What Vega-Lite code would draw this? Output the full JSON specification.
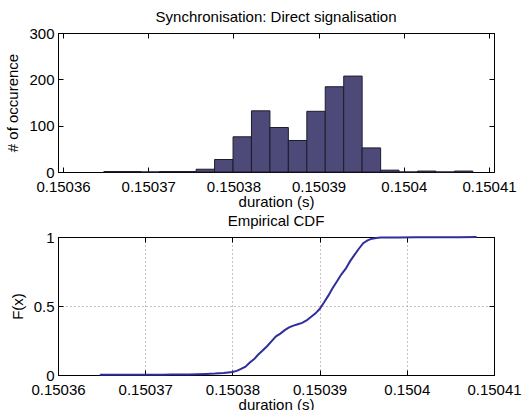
{
  "$schema": "https://vega.github.io/schema/vega-lite/v6.json",
  "padding": {"left": 5, "top": 9, "right": 5, "bottom": 0},
  "background": "white",
  "bounds": "flush",
  "spacing": 65,
  "datasets": {
    "hist": [
      {"x0": 0.1503648, "x1": 0.15036697, "count": 1},
      {"x0": 0.15036697, "x1": 0.15036913, "count": 1},
      {"x0": 0.15036913, "x1": 0.1503713, "count": 0},
      {"x0": 0.1503713, "x1": 0.15037346, "count": 1},
      {"x0": 0.15037346, "x1": 0.15037563, "count": 1},
      {"x0": 0.15037563, "x1": 0.15037779, "count": 6},
      {"x0": 0.15037779, "x1": 0.15037996, "count": 27},
      {"x0": 0.15037996, "x1": 0.15038212, "count": 76},
      {"x0": 0.15038212, "x1": 0.15038429, "count": 132},
      {"x0": 0.15038429, "x1": 0.15038645, "count": 96},
      {"x0": 0.15038645, "x1": 0.15038862, "count": 68},
      {"x0": 0.15038862, "x1": 0.15039078, "count": 131},
      {"x0": 0.15039078, "x1": 0.15039295, "count": 184},
      {"x0": 0.15039295, "x1": 0.15039511, "count": 207},
      {"x0": 0.15039511, "x1": 0.15039728, "count": 52},
      {"x0": 0.15039728, "x1": 0.15039944, "count": 4},
      {"x0": 0.15039944, "x1": 0.15040161, "count": 0},
      {"x0": 0.15040161, "x1": 0.15040377, "count": 2},
      {"x0": 0.15040377, "x1": 0.15040594, "count": 0},
      {"x0": 0.15040594, "x1": 0.1504081, "count": 2}
    ],
    "cdf": [
      {"x": 0.1503648, "F": 0.000},
      {"x": 0.1503649, "F": 0.001},
      {"x": 0.15037, "F": 0.002},
      {"x": 0.150372, "F": 0.002},
      {"x": 0.150373, "F": 0.003},
      {"x": 0.150375, "F": 0.004},
      {"x": 0.150376, "F": 0.006},
      {"x": 0.150377, "F": 0.008},
      {"x": 0.150378, "F": 0.010},
      {"x": 0.150379, "F": 0.014},
      {"x": 0.15038, "F": 0.022},
      {"x": 0.1503805, "F": 0.030},
      {"x": 0.150381, "F": 0.045},
      {"x": 0.1503815, "F": 0.060},
      {"x": 0.150382, "F": 0.090},
      {"x": 0.1503825, "F": 0.115},
      {"x": 0.150383, "F": 0.150},
      {"x": 0.1503835, "F": 0.180},
      {"x": 0.150384, "F": 0.210},
      {"x": 0.1503845, "F": 0.245},
      {"x": 0.150385, "F": 0.280},
      {"x": 0.1503855, "F": 0.300},
      {"x": 0.150386, "F": 0.325},
      {"x": 0.1503865, "F": 0.345},
      {"x": 0.150387, "F": 0.358},
      {"x": 0.1503875, "F": 0.368},
      {"x": 0.150388, "F": 0.378},
      {"x": 0.1503885, "F": 0.395},
      {"x": 0.150389, "F": 0.420},
      {"x": 0.1503895, "F": 0.445},
      {"x": 0.15039, "F": 0.478},
      {"x": 0.1503905, "F": 0.525},
      {"x": 0.150391, "F": 0.575},
      {"x": 0.1503915, "F": 0.630},
      {"x": 0.150392, "F": 0.680},
      {"x": 0.1503925, "F": 0.730},
      {"x": 0.150393, "F": 0.770},
      {"x": 0.1503935, "F": 0.825},
      {"x": 0.150394, "F": 0.870},
      {"x": 0.1503945, "F": 0.915},
      {"x": 0.150395, "F": 0.955},
      {"x": 0.1503955, "F": 0.975},
      {"x": 0.150396, "F": 0.988},
      {"x": 0.1503965, "F": 0.993},
      {"x": 0.150397, "F": 0.996},
      {"x": 0.150399, "F": 0.997},
      {"x": 0.150401, "F": 0.998},
      {"x": 0.150404, "F": 0.999},
      {"x": 0.150406, "F": 0.999},
      {"x": 0.150408, "F": 1.000}
    ]
  },
  "vconcat": [
    {
      "width": 436,
      "height": 139,
      "title": {"text": "Synchronisation: Direct signalisation", "offset": 1},
      "data": {"name": "hist"},
      "layer": [
        {
          "mark": {"type": "bar", "fill": "#4d4a7a", "stroke": "#1c1c2c", "strokeWidth": 1, "orient": "vertical"},
          "encoding": {
            "x": {"field": "x0", "type": "quantitative",
                  "scale": {"domain": [0.15036, 0.15041], "nice": false, "zero": false},
                  "axis": {"values": [0.15036, 0.15037, 0.15038, 0.15039, 0.1504, 0.15041], "format": ".5~f", "title": "duration (s)"}},
            "x2": {"field": "x1"},
            "y": {"field": "count", "type": "quantitative",
                  "scale": {"domain": [0, 300], "nice": false},
                  "axis": {"values": [0, 100, 200, 300], "title": "# of occurence"}},
            "y2": {"datum": 0}
          }
        },
        {
          "mark": {"type": "point", "opacity": 0},
          "encoding": {
            "x": {"field": "x0", "type": "quantitative",
                  "axis": {"orient": "top", "values": [0.15036, 0.15037, 0.15038, 0.15039, 0.1504, 0.15041], "labels": false, "title": null}},
            "y": {"field": "count", "type": "quantitative",
                  "axis": {"orient": "right", "values": [0, 100, 200, 300], "labels": false, "title": null}}
          }
        }
      ],
      "resolve": {"axis": {"x": "independent", "y": "independent"}}
    },
    {
      "width": 436,
      "height": 138,
      "title": {"text": "Empirical CDF", "offset": 1},
      "data": {"name": "cdf"},
      "layer": [
        {
          "mark": {"type": "line", "stroke": "#2e2e9c", "strokeWidth": 2, "interpolate": "linear"},
          "encoding": {
            "x": {"field": "x", "type": "quantitative",
                  "scale": {"domain": [0.15036, 0.15041], "nice": false, "zero": false},
                  "axis": {"values": [0.15036, 0.15037, 0.15038, 0.15039, 0.1504, 0.15041], "format": ".5~f", "title": "duration (s)", "grid": true}},
            "y": {"field": "F", "type": "quantitative",
                  "scale": {"domain": [0, 1], "nice": false},
                  "axis": {"values": [0, 0.5, 1], "format": "~g", "title": "F(x)", "grid": true}}
          }
        },
        {
          "mark": {"type": "point", "opacity": 0},
          "encoding": {
            "x": {"field": "x", "type": "quantitative",
                  "axis": {"orient": "top", "values": [0.15036, 0.15037, 0.15038, 0.15039, 0.1504, 0.15041], "labels": false, "title": null}},
            "y": {"field": "F", "type": "quantitative",
                  "axis": {"orient": "right", "values": [0, 0.5, 1], "labels": false, "title": null}}
          }
        }
      ],
      "resolve": {"axis": {"x": "independent", "y": "independent"}}
    }
  ],
  "config": {
    "font": "Liberation Sans",
    "view": {"stroke": "#000", "strokeWidth": 1},
    "title": {"font": "Liberation Sans", "fontSize": 15, "fontWeight": "normal", "color": "#000", "anchor": "middle"},
    "axis": {
      "domainColor": "#000",
      "domainWidth": 1,
      "tickColor": "#000",
      "tickSize": -5,
      "labelPadding": 9,
      "labelColor": "#000",
      "labelFont": "Liberation Sans",
      "labelFontSize": 15,
      "labelOverlap": false,
      "labelFlush": false,
      "titleFont": "Liberation Sans",
      "titleFontSize": 15,
      "titleFontWeight": "normal",
      "titleColor": "#000",
      "titlePadding": 2,
      "grid": false,
      "gridColor": "#8a8a8a",
      "gridDash": [1, 3],
      "gridWidth": 1
    },
    "axisX": {"labelPadding": 12, "titlePadding": 0},
    "axisY": {"titlePadding": 8}
  }
}
